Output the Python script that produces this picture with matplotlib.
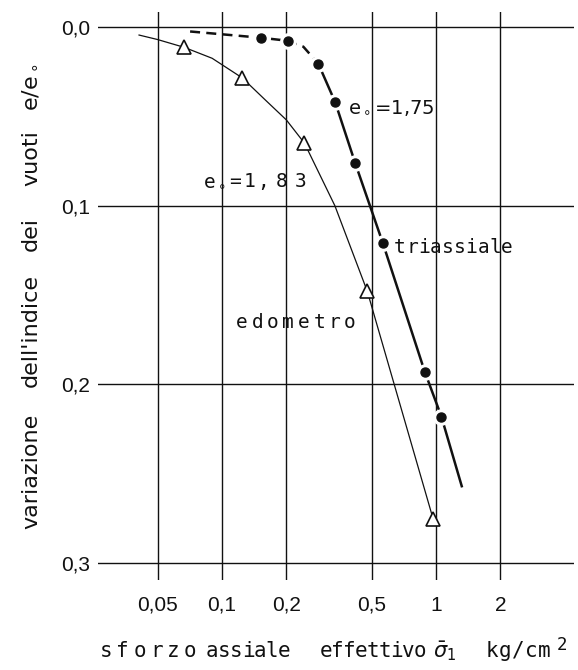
import matplotlib

matplotlib.use('Agg')
import matplotlib.pyplot as plt
from matplotlib.ticker import NullLocator

W, H = 578, 670
INK = '#111111'
FONT = 'DejaVu Sans Mono'
TICK_FONT = 'Liberation Sans'

# grid / tick values
x_grid = [0.05, 0.1, 0.2, 0.5, 1, 2]
x_ticklabels = ['0,05', '0,1', '0,2', '0,5', '1', '2']
y_grid = [0.0, 0.1, 0.2, 0.3]
y_ticklabels = ['0,0', '0,1', '0,2', '0,3']

# triassiale (e0 = 1,75): measured points
tri_x = [0.152, 0.203, 0.282, 0.338, 0.419, 0.565, 0.887, 1.06]
tri_y = [0.006, 0.0077, 0.0205, 0.042, 0.076, 0.121, 0.193, 0.218]
# traced curve: dashed start, then solid
tri_dash_x = [0.071, 0.152, 0.203, 0.24, 0.282]
tri_dash_y = [0.0025, 0.006, 0.0077, 0.011, 0.0205]
tri_line_x = [0.282, 0.338, 0.419, 0.565, 0.887, 1.06, 1.32]
tri_line_y = [0.0205, 0.042, 0.076, 0.121, 0.193, 0.218, 0.257]

# edometro (e0 = 1,83)
edo_x = [0.0667, 0.1245, 0.243, 0.478, 0.971]
edo_y = [0.0114, 0.0285, 0.065, 0.148, 0.2755]
edo_line_x = [0.041, 0.05, 0.0667, 0.09, 0.1245, 0.16, 0.2, 0.243, 0.337, 0.478, 0.971]
edo_line_y = [0.0045, 0.007, 0.0114, 0.0175, 0.0285, 0.041, 0.052, 0.065, 0.100, 0.148, 0.2755]


fig = plt.figure(figsize=(W / 100, H / 100), dpi=100)
fig.patch.set_facecolor('white')
ax = fig.add_axes([98 / W, 1 - 580 / H, 476 / W, 568 / H])
ax.set_xscale('log')
ax.set_xlim(0.02636, 4.416)
ax.set_ylim(0.3095, -0.0084)
for s in ax.spines.values():
    s.set_visible(False)

for v in y_grid:
    ax.axhline(v, color=INK, lw=1.0, zorder=1)
for v in x_grid:
    ax.axvline(v, color=INK, lw=1.0, zorder=1)

ax.set_xticks(x_grid, x_ticklabels, family=TICK_FONT, fontsize=15, color=INK)
ax.xaxis.set_minor_locator(NullLocator())
ax.set_yticks(y_grid, y_ticklabels, family=TICK_FONT, fontsize=15, color=INK)
ax.tick_params(axis='x', length=0, pad=11.5)
ax.tick_params(axis='y', length=0, pad=5.8)

# edometro curve
ax.plot(edo_line_x, edo_line_y, color=INK, lw=0.9, zorder=2)
ax.plot(edo_x, edo_y, ls='none', marker='^', ms=10, mfc='white', mec=INK, mew=1.2, zorder=4)

# triassiale curve
ax.plot(tri_dash_x, tri_dash_y, color=INK, lw=1.8, dashes=(4, 2.5), zorder=2)
ax.plot(tri_line_x, tri_line_y, color=INK, lw=1.8, zorder=2)
ax.plot(tri_x, tri_y, ls='none', marker='o', ms=11, mfc='white', mec='white', zorder=3)
ax.plot(tri_x, tri_y, ls='none', marker='o', ms=6.5, mfc=INK, mec=INK, zorder=4)


def px_text(x, y, s, size=14, rot=0, ha='center', family=FONT):
    fig.text(x / W, 1 - y / H, s, fontsize=size, rotation=rot, rotation_mode='anchor',
             ha=ha, va='baseline', family=family, color=INK)


def spaced(s, a, b, base, size=14):
    chars = list(s)
    n = len(chars)
    for i, ch in enumerate(chars):
        t = a + (b - a) * i / (n - 1) if n > 1 else a
        px_text(t, base, ch, size)


# curve labels
px_text(348, 113, r'e$_\circ$=1,75', 14, ha='left', family='DejaVu Sans')
for tok, xp in zip([r'e$_\circ$', '=', '1', ',', '8', '3'], [214, 235, 250, 263, 282, 301]):
    px_text(xp, 187, tok, 14)
spaced('triassiale', 400, 507, 253, 14)
spaced('edometro', 242, 350, 328, 14)

# x axis label
spaced('sforzo', 106, 190, 657, 15)
spaced('assiale', 212, 284, 657, 15)
spaced('effettivo', 326, 420, 657, 15)
px_text(445, 657, r'$\bar{\sigma}_1$', 15)
spaced('kg/cm', 492, 544, 657, 15)
px_text(562, 650, '2', 12.5)

# y axis label (one word at a time, rotated)
for word, yc in [('variazione', 471), ("dell'indice", 331), ('dei', 234),
                 ('vuoti', 158), (r'e/e$_\circ$', 87)]:
    px_text(37, yc, word, 16, rot=90, family='DejaVu Sans')

fig.savefig('out.png', dpi=100, facecolor='white')
